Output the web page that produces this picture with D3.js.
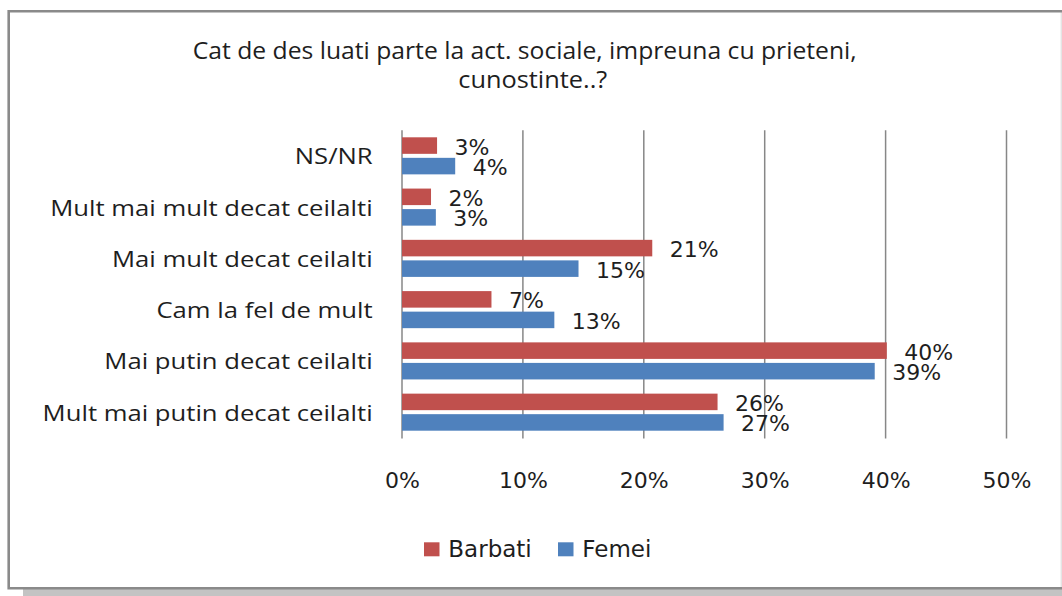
<!DOCTYPE html>
<html><head><meta charset="utf-8">
<script src="https://cdn.jsdelivr.net/npm/d3@7/dist/d3.min.js"></script>
<style>body{margin:0;background:#fff;} svg{display:block}</style>
</head><body>
<svg id="c" width="1062" height="596"></svg>
<script>
const categories = ["NS/NR", "Mult mai mult decat ceilalti", "Mai mult decat ceilalti", "Cam la fel de mult", "Mai putin decat ceilalti", "Mult mai putin decat ceilalti"];
const seriesNames = ["Barbati", "Femei"];
const barbati = [2.9, 2.4, 20.7, 7.4, 40.1, 26.1];
const femei = [4.4, 2.8, 14.6, 12.6, 39.1, 26.6];
const xTicks = [0, 10, 20, 30, 40, 50];
const titleLines = ["Cat de des luati parte la act. sociale, impreuna cu prieteni,", "cunostinte..?"];
const seriesColors = ["#C0504D", "#4F81BD"];

const values = {Barbati: barbati, Femei: femei};
const color = d3.scaleOrdinal(seriesNames, seriesColors);
const textColor = "#1e1e1e";
const svg = d3.select("#c");

// shadow + frame
svg.append("rect").attr("x", 23).attr("y", 589).attr("width", 1039).attr("height", 7).attr("fill", "#c3c3c3");
svg.append("rect").attr("x", 8.7).attr("y", 11.3).attr("width", 1052.3).attr("height", 577).attr("fill", "#fff");
svg.append("line").attr("x1", 1061.2).attr("x2", 1061.2).attr("y1", 11.3).attr("y2", 588.3).attr("stroke", "#d8d8d8").attr("stroke-width", 1);
svg.append("path").attr("d", "M1062,11.3 H8.7 V588.3 H1062").attr("fill", "none").attr("stroke", "#8a8a8a").attr("stroke-width", 2.6);

// title
const tl = [{t: titleLines[0], x: 192.7, y: 58.5, w: 664}, {t: titleLines[1], x: 458.3, y: 88, w: 149}];
svg.selectAll("text.title").data(tl).join("text").attr("class", "title")
  .attr("x", d => d.x).attr("y", d => d.y)
  .attr("textLength", d => d.w).attr("lengthAdjust", "spacingAndGlyphs")
  .attr("font-family", "'Open Sans', sans-serif").attr("font-size", 23.5)
  .attr("fill", textColor).text(d => d.t);

// scales
const x = d3.scaleLinear().domain([0, 50]).range([402, 1006.5]);
const y = d3.scaleBand().domain(categories).range([130.2, 437.8]);
const sub = d3.scaleBand().domain(seriesNames).range([0, y.bandwidth()]).paddingInner(0.195).paddingOuter(0.346);

// gridlines
svg.append("g").selectAll("line").data(xTicks).join("line")
  .attr("x1", d => x(d)).attr("x2", d => x(d))
  .attr("y1", y.range()[0]).attr("y2", y.range()[1] + 0.8)
  .attr("stroke", "#878787").attr("stroke-width", 1.5);

// bars
const rows = [];
categories.forEach((c, i) => seriesNames.forEach(s => rows.push({c, s, v: values[s][i]})));
svg.append("g").selectAll("rect").data(rows).join("rect")
  .attr("x", x(0)).attr("y", d => y(d.c) + sub(d.s))
  .attr("width", d => x(d.v) - x(0)).attr("height", sub.bandwidth())
  .attr("fill", d => color(d.s));

// value labels
svg.append("g").selectAll("text").data(rows).join("text")
  .attr("x", d => x(d.v) + 17.5)
  .attr("y", d => y(d.c) + sub(d.s) + sub.bandwidth() / 2 + 9)
  .attr("font-family", "'DejaVu Sans', sans-serif").attr("font-size", 22)
  .attr("fill", textColor).text(d => Math.round(d.v) + "%");

// x axis labels
const ax = svg.append("g").call(d3.axisBottom(x).tickValues(xTicks).tickFormat(d => d + "%").tickSize(0));
ax.select(".domain").remove();
ax.selectAll("text").attr("y", 488).attr("dy", 0)
  .attr("font-family", "'DejaVu Sans', sans-serif").attr("font-size", 22).attr("fill", textColor);

// category labels
const catText = svg.append("g").selectAll("text").data(categories).join("text")
  .attr("x", 372.7).attr("y", d => y(d) + y.bandwidth() / 2 + 8.5)
  .attr("text-anchor", "end")
  .attr("font-family", "'Open Sans', sans-serif").attr("font-size", 22.5)
  .attr("fill", textColor).text(d => d);
catText.each(function() {
  const w = this.getComputedTextLength();
  d3.select(this).attr("textLength", w * 1.14).attr("lengthAdjust", "spacingAndGlyphs");
});

// legend
const lg = svg.append("g").selectAll("g").data(seriesNames).join("g")
  .attr("transform", (d, i) => `translate(${[424, 558][i]},0)`);
lg.append("rect").attr("x", 0).attr("y", 542.3).attr("width", 15.5).attr("height", 14).attr("fill", d => color(d));
lg.append("text").attr("x", 24.3).attr("y", 557.3)
  .attr("font-family", "'DejaVu Sans', sans-serif").attr("font-size", 23)
  .attr("fill", textColor).text(d => d);
</script>
</body></html>
